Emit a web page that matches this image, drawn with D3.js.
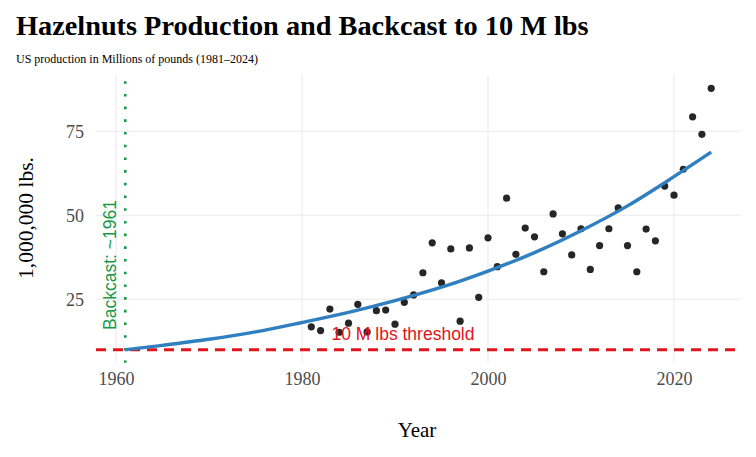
<!DOCTYPE html>
<html>
<head>
<meta charset="utf-8">
<script src="https://cdn.jsdelivr.net/npm/d3@7"></script>
<style>
  body { margin: 0; background: #fff; }
  svg { display: block; }
</style>
</head>
<body>
<svg width="756" height="457"></svg>
<script>
// observed production (millions of lbs)
const years = [1981, 1982, 1983, 1984, 1985, 1986, 1987, 1988, 1989, 1990,
  1991, 1992, 1993, 1994, 1995, 1996, 1997, 1998, 1999, 2000,
  2001, 2002, 2003, 2004, 2005, 2006, 2007, 2008, 2009, 2010,
  2011, 2012, 2013, 2014, 2015, 2016, 2017, 2018, 2019, 2020,
  2021, 2022, 2023, 2024];
const production = [16.8, 15.7, 22.1, 15.2, 17.9, 23.5, 15.3, 21.6, 21.8, 17.6,
  24.1, 26.3, 32.9, 41.8, 29.9, 40.0, 18.5, 40.3, 25.6, 43.3,
  34.7, 55.1, 38.4, 46.2, 43.6, 33.2, 50.4, 44.5, 38.2, 46.0,
  33.9, 41.0, 46.0, 52.2, 41.0, 33.2, 45.9, 42.4, 58.7, 56.0,
  63.7, 79.3, 74.1, 87.8];

// fitted backcast curve
const fitYears = [1961, 1965, 1970, 1975, 1980, 1985, 1990, 1995, 2000, 2005, 2010, 2015, 2020, 2024];
const fitValues = [10.0, 11.3, 13.1, 15.3, 18.1, 21.1, 24.6, 28.6, 33.4, 38.9, 45.4, 52.8, 61.5, 68.8];

const threshold = 10;
const backcastYear = 1961;
const xTicks = [1960, 1980, 2000, 2020];
const yTicks = [25, 50, 75];

const svg = d3.select('svg');
const serif = '"Liberation Serif", "Times New Roman", serif';
const sans = '"Liberation Sans", Arial, sans-serif';

const x = d3.scaleLinear().domain([1957.85, 2027.15]).range([96, 740.5]);
const y = d3.scaleLinear().domain([6.1, 91.7]).range([362.8, 75.2]);

// grid
const grid = svg.append('g');
grid.selectAll('line.gx')
  .data(xTicks)
  .enter().append('line')
  .attr('x1', d => x(d)).attr('x2', d => x(d))
  .attr('y1', y.range()[1]).attr('y2', y.range()[0])
  .attr('stroke', '#ebebeb').attr('stroke-width', 1.1);
grid.selectAll('line.gy')
  .data(yTicks)
  .enter().append('line')
  .attr('x1', x.range()[0]).attr('x2', x.range()[1])
  .attr('y1', d => y(d)).attr('y2', d => y(d))
  .attr('stroke', '#ebebeb').attr('stroke-width', 1.1);

// axes (text only)
const xAxis = svg.append('g')
  .attr('transform', `translate(0,${y.range()[0]})`)
  .call(d3.axisBottom(x).tickValues(xTicks).tickFormat(d3.format('d')).tickSize(0).tickPadding(9));
const yAxis = svg.append('g')
  .attr('transform', `translate(${x.range()[0]},0)`)
  .call(d3.axisLeft(y).tickValues(yTicks).tickSize(0).tickPadding(12));
[xAxis, yAxis].forEach(a => {
  a.select('.domain').remove();
  a.selectAll('text')
    .attr('font-family', serif)
    .attr('font-size', 18)
    .attr('fill', '#4d4d4d');
});
xAxis.selectAll('text').attr('dy', '0.72em');

// threshold line
svg.append('line')
  .attr('x1', x.range()[0]).attr('x2', x.range()[1])
  .attr('y1', y(threshold)).attr('y2', y(threshold))
  .attr('stroke', '#e3141c').attr('stroke-width', 3)
  .attr('stroke-dasharray', '10,7');

// backcast year line
svg.append('line')
  .attr('x1', x(backcastYear)).attr('x2', x(backcastYear))
  .attr('y1', y.range()[1] + 6).attr('y2', y.range()[0])
  .attr('stroke', '#17994a').attr('stroke-width', 2.6)
  .attr('stroke-dasharray', '2.6,10.1');

// points
svg.append('g')
  .selectAll('circle')
  .data(years.map((yr, i) => [yr, production[i]]))
  .enter().append('circle')
  .attr('cx', d => x(d[0]))
  .attr('cy', d => y(d[1]))
  .attr('r', 3.6)
  .attr('fill', '#262626');

// fitted curve
const line = d3.line()
  .x(d => x(d[0]))
  .y(d => y(d[1]))
  .curve(d3.curveMonotoneX);
svg.append('path')
  .datum(fitYears.map((yr, i) => [yr, fitValues[i]]))
  .attr('d', line)
  .attr('fill', 'none')
  .attr('stroke', '#2f7fc1')
  .attr('stroke-width', 3.4);

// annotations
svg.append('text')
  .attr('x', 403).attr('y', 340)
  .attr('text-anchor', 'middle')
  .attr('font-family', sans).attr('font-size', 17.5)
  .attr('fill', '#e3141c')
  .text('10 M lbs threshold');

svg.append('text')
  .attr('transform', `translate(116,265) rotate(-90)`)
  .attr('text-anchor', 'middle')
  .attr('font-family', sans).attr('font-size', 17.5)
  .attr('fill', '#17994a')
  .text('Backcast: ~1961');

// titles
svg.append('text')
  .attr('x', 16).attr('y', 35)
  .attr('font-family', serif).attr('font-size', 28.3).attr('font-weight', 'bold')
  .attr('fill', '#000')
  .text('Hazelnuts Production and Backcast to 10 M lbs');

svg.append('text')
  .attr('x', 16).attr('y', 63)
  .attr('font-family', serif).attr('font-size', 12)
  .attr('fill', '#000')
  .text('US production in Millions of pounds (1981–2024)');

svg.append('text')
  .attr('x', 417).attr('y', 437)
  .attr('text-anchor', 'middle')
  .attr('font-family', serif).attr('font-size', 21)
  .attr('fill', '#000')
  .text('Year');

svg.append('text')
  .attr('transform', `translate(33,218) rotate(-90)`)
  .attr('text-anchor', 'middle')
  .attr('font-family', serif).attr('font-size', 21.5)
  .attr('fill', '#000')
  .text('1,000,000 lbs.');
</script>
</body>
</html>
